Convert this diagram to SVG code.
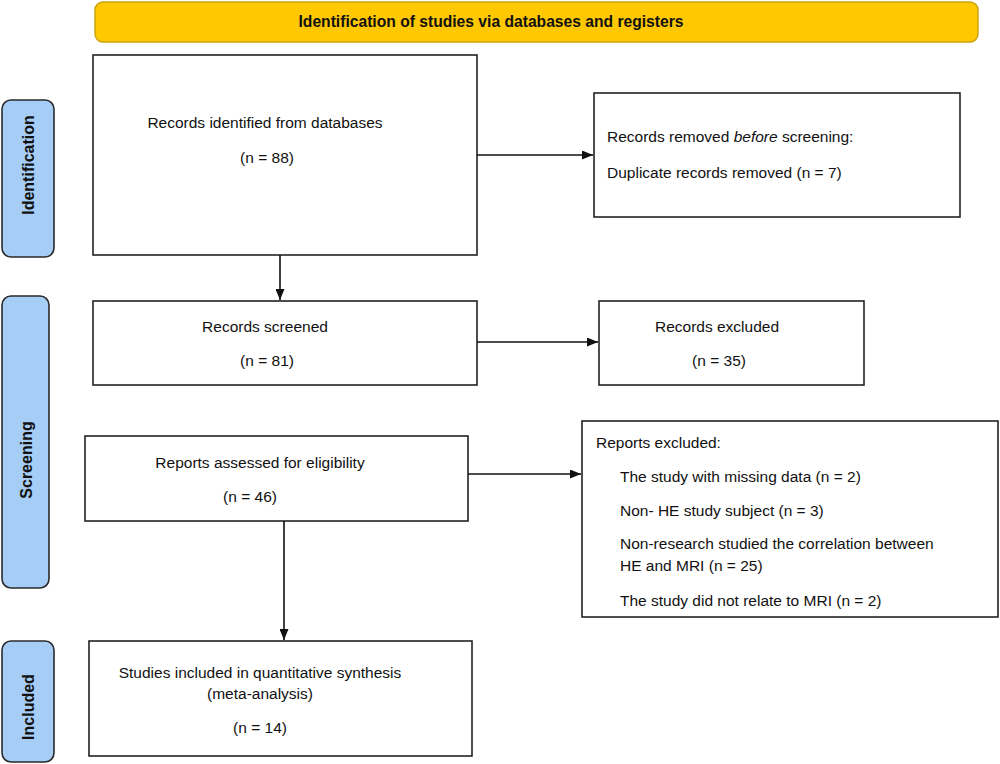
<svg xmlns="http://www.w3.org/2000/svg" width="1000" height="764" viewBox="0 0 1000 764">
<style>
  .box{fill:#fff;stroke:#222;stroke-width:1.6}
  .side{fill:#a5cdf6;stroke:#2a2a2a;stroke-width:1.6}
  .t{font-family:"Liberation Sans",Arial,sans-serif;font-size:15.5px;fill:#111}
  .b{font-family:"Liberation Sans",Arial,sans-serif;font-size:16px;font-weight:bold;fill:#111}
  .c{text-anchor:middle}
  .ln{stroke:#111;stroke-width:1.6;fill:none}
</style>
<defs>
  <marker id="ah" markerWidth="11" markerHeight="9" refX="11" refY="4.5" orient="auto" markerUnits="userSpaceOnUse">
    <path d="M0,0 L11,4.5 L0,9 Z" fill="#111"/>
  </marker>
</defs>
<rect width="1000" height="764" fill="#fff"/>

<g id="banner">
  <rect x="95" y="2" width="883" height="40" rx="8" fill="#ffc800" stroke="#c9a20a" stroke-width="1.4"/>
  <text class="b c" x="491" y="27" font-size="15" textLength="385" lengthAdjust="spacingAndGlyphs">Identification of studies via databases and registers</text>
</g>

<g id="side-identification">
  <rect class="side" x="2" y="100" width="52" height="157" rx="9"/>
  <text class="b c" transform="translate(34,165) rotate(-90)">Identification</text>
</g>
<g id="side-screening">
  <rect class="side" x="2" y="296" width="47" height="292" rx="9"/>
  <text class="b c" transform="translate(32,460) rotate(-90)">Screening</text>
</g>
<g id="side-included">
  <rect class="side" x="2" y="641" width="52" height="121" rx="9"/>
  <text class="b c" transform="translate(34,707) rotate(-90)">Included</text>
</g>

<g id="records-identified">
  <rect class="box" x="93" y="55" width="384" height="200"/>
  <text class="t c" x="265" y="128">Records identified from databases</text>
  <text class="t c" x="267" y="163">(n = 88)</text>
</g>

<g id="records-removed">
  <rect class="box" x="594" y="93" width="366" height="124"/>
  <text class="t" x="607" y="142">Records removed <tspan font-style="italic">before</tspan> screening:</text>
  <text class="t" x="607" y="178">Duplicate records removed (n = 7)</text>
</g>

<g id="records-screened">
  <rect class="box" x="93" y="301" width="384" height="84"/>
  <text class="t c" x="265" y="332">Records screened</text>
  <text class="t c" x="267" y="366">(n = 81)</text>
</g>

<g id="records-excluded">
  <rect class="box" x="599" y="301" width="265" height="84"/>
  <text class="t c" x="717" y="332">Records excluded</text>
  <text class="t c" x="719" y="366">(n = 35)</text>
</g>

<g id="reports-assessed">
  <rect class="box" x="85" y="436" width="383" height="85"/>
  <text class="t c" x="260" y="468">Reports assessed for eligibility</text>
  <text class="t c" x="250" y="502">(n = 46)</text>
</g>

<g id="reports-excluded">
  <rect class="box" x="582" y="421" width="416" height="196"/>
  <text class="t" x="596" y="448">Reports excluded:</text>
  <text class="t" x="620" y="482">The study with missing data (n = 2)</text>
  <text class="t" x="620" y="516">Non- HE study subject (n = 3)</text>
  <text class="t" x="620" y="549">Non-research studied the correlation between</text>
  <text class="t" x="620" y="571">HE and MRI (n = 25)</text>
  <text class="t" x="620" y="606">The study did not relate to MRI (n = 2)</text>
</g>

<g id="studies-included">
  <rect class="box" x="89" y="641" width="383" height="115"/>
  <text class="t c" x="260" y="678">Studies included in quantitative synthesis</text>
  <text class="t c" x="260" y="699">(meta-analysis)</text>
  <text class="t c" x="260" y="733">(n = 14)</text>
</g>

<g id="connectors">
  <line class="ln" x1="477" y1="155" x2="593" y2="155" marker-end="url(#ah)"/>
  <line class="ln" x1="280" y1="255" x2="280" y2="300" marker-end="url(#ah)"/>
  <line class="ln" x1="477" y1="342" x2="598" y2="342" marker-end="url(#ah)"/>
  <line class="ln" x1="468" y1="474" x2="581" y2="474" marker-end="url(#ah)"/>
  <line class="ln" x1="284" y1="521" x2="284" y2="640" marker-end="url(#ah)"/>
</g>
</svg>
